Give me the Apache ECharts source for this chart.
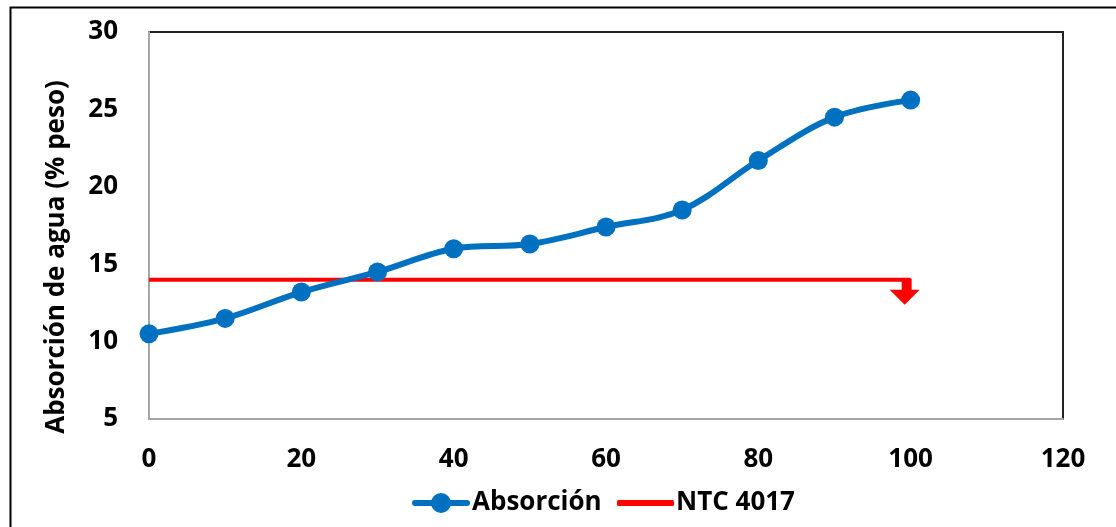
<!DOCTYPE html>
<html><head><meta charset="utf-8">
<script src="https://cdn.jsdelivr.net/npm/echarts@6/dist/echarts.min.js"></script>
<style>html,body{margin:0;padding:0;background:#fff}#c{width:1116px;height:527px}</style>
</head><body><div id="c"></div>
<script>
const xValues = [0, 10, 20, 30, 40, 50, 60, 70, 80, 90, 100];
const absorcion = [10.5, 11.5, 13.2, 14.5, 16.0, 16.3, 17.4, 18.5, 21.7, 24.5, 25.6];
const ntcX = [0, 100];
const ntcY = [14, 14];
const seriesNames = ['Absorción', 'NTC 4017'];
const yTitle = 'Absorción de agua (% peso)';

const font = '"Open Sans", "DejaVu Sans", sans-serif';
const txt = {color: '#000', fontSize: 26, fontWeight: 'bold', fontFamily: font};
const chart = echarts.init(document.getElementById('c'));
chart.setOption({
  animation: false,
  graphic: [{
    type: 'rect', shape: {x: 10.5, y: 7.5, width: 1120, height: 540},
    style: {fill: 'none', stroke: '#000', lineWidth: 2}, z: -1
  }, {
    type: 'text', x: 57, y: 257, rotation: Math.PI / 2,
    style: {text: yTitle, fill: '#000', font: 'bold 26px ' + font, align: 'center', verticalAlign: 'middle'}
  }],
  grid: {left: 149, right: 53, top: 32, bottom: 108, show: true, borderColor: '#222', borderWidth: 2, backgroundColor: '#fff'},
  xAxis: {
    type: 'value', min: 0, max: 120, interval: 20,
    axisLine: {show: true, lineStyle: {color: '#a6a6a6', width: 2}},
    axisTick: {show: false}, splitLine: {show: false},
    axisLabel: Object.assign({margin: 28}, txt)
  },
  yAxis: {
    type: 'value', min: 5, max: 30, interval: 5,
    axisLine: {show: true, lineStyle: {color: '#a6a6a6', width: 2}},
    axisTick: {show: false}, splitLine: {show: false},
    axisLabel: Object.assign({margin: 31}, txt)
  },
  legend: [{
    left: 407, top: 485, itemWidth: 58, itemHeight: 20,
    textStyle: Object.assign({}, txt, {padding: [0, 0, 0, -3]}),
    data: [{name: seriesNames[0], icon: 'path://M3 7 H55 A3 3 0 0 1 55 13 H3 A3 3 0 0 1 3 7 Z M29 0 A10 10 0 1 1 28.99 0 Z'}]
  }, {
    left: 612, top: 485, itemWidth: 57, itemHeight: 6,
    textStyle: Object.assign({}, txt, {padding: [0, 0, 0, -3]}),
    data: [{name: seriesNames[1], icon: 'roundRect'}]
  }],
  series: [{
    name: seriesNames[1], type: 'line',
    data: ntcX.map((x, i) => [x, ntcY[i]]),
    symbol: 'none', lineStyle: {color: '#ff0000', width: 4}, itemStyle: {color: '#ff0000'},
    markPoint: {
      symbol: 'path://M12 0 L22 0 L22 11 L30 11 L15 26 L0 11 L12 11 Z',
      symbolSize: [30, 26], symbolOffset: [-6, 12], silent: true,
      itemStyle: {color: '#ff0000'}, label: {show: false},
      data: [{coord: [ntcX[1], ntcY[1]]}]
    },
    z: 2
  }, {
    name: seriesNames[0], type: 'line', smooth: 0.35,
    data: xValues.map((x, i) => [x, absorcion[i]]),
    symbol: 'circle', symbolSize: 19,
    lineStyle: {color: '#0070c0', width: 6}, itemStyle: {color: '#0070c0'},
    z: 3
  }]
});
</script></body></html>
